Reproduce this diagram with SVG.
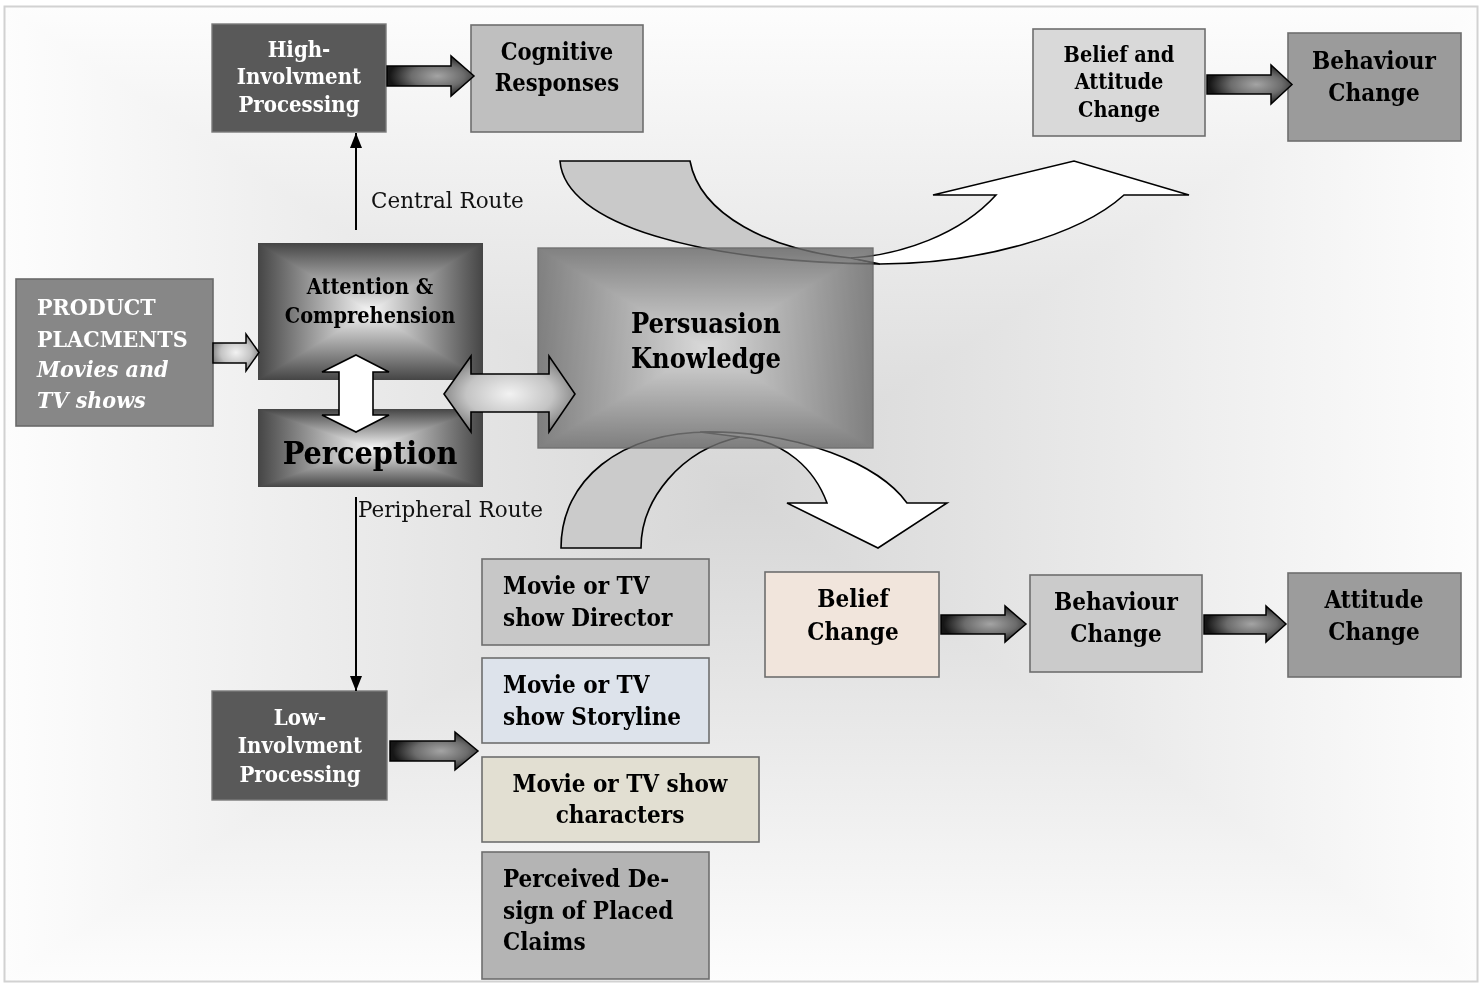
<svg xmlns="http://www.w3.org/2000/svg" width="1483" height="985" viewBox="0 0 1483 985">
  <defs>
    <style>
      .t { font-family: 'DejaVu Serif Condensed', 'DejaVu Serif', 'Liberation Serif', serif; font-stretch: condensed; font-weight: bold; fill: #000; }
      .w { fill: #fff; }
      .r { font-family: 'DejaVu Serif', 'Liberation Serif', serif; font-weight: normal; fill: #111; font-size: 21.5px; }
      .box { stroke: #6e6e6e; stroke-width: 1.6; }
      .dark { fill: #595959; stroke: #7a7a7a; stroke-width: 1.4; }
      .line { fill: none; stroke: #000; stroke-width: 2; }
    </style>
    <!-- page background: rectangular fade, light at the frame, grey in the middle -->
    <linearGradient id="bgH" gradientUnits="userSpaceOnUse" x1="4" y1="0" x2="1478" y2="0">
      <stop offset="0" stop-color="#fdfdfd"/>
      <stop offset="0.5" stop-color="#d6d6d6"/>
      <stop offset="1" stop-color="#fdfdfd"/>
    </linearGradient>
    <linearGradient id="bgV" gradientUnits="userSpaceOnUse" x1="0" y1="6" x2="0" y2="982">
      <stop offset="0" stop-color="#fdfdfd"/>
      <stop offset="0.5" stop-color="#d6d6d6"/>
      <stop offset="1" stop-color="#fdfdfd"/>
    </linearGradient>
    <!-- box shading: dark rim, light centre (combined with darken blend) -->
    <linearGradient id="acH" x1="0" y1="0" x2="1" y2="0">
      <stop offset="0" stop-color="#454545"/>
      <stop offset="0.5" stop-color="#f6f6f6"/>
      <stop offset="1" stop-color="#454545"/>
    </linearGradient>
    <linearGradient id="acV" x1="0" y1="0" x2="0" y2="1">
      <stop offset="0" stop-color="#454545"/>
      <stop offset="0.5" stop-color="#f6f6f6"/>
      <stop offset="1" stop-color="#454545"/>
    </linearGradient>
    <linearGradient id="pkH" x1="0" y1="0" x2="1" y2="0">
      <stop offset="0" stop-color="#6a6a6a"/>
      <stop offset="0.5" stop-color="#d8d8d8"/>
      <stop offset="1" stop-color="#6a6a6a"/>
    </linearGradient>
    <linearGradient id="pkV" x1="0" y1="0" x2="0" y2="1">
      <stop offset="0" stop-color="#6a6a6a"/>
      <stop offset="0.5" stop-color="#d8d8d8"/>
      <stop offset="1" stop-color="#6a6a6a"/>
    </linearGradient>
    <!-- block arrow fills -->
    <radialGradient id="dkArrow" cx="0.58" cy="0.5" r="0.55">
      <stop offset="0" stop-color="#a4a4a4"/>
      <stop offset="0.55" stop-color="#6c6c6c"/>
      <stop offset="1" stop-color="#161616"/>
    </radialGradient>
    <radialGradient id="ltArrow" cx="0.5" cy="0.5" r="0.55">
      <stop offset="0" stop-color="#f2f2f2"/>
      <stop offset="0.6" stop-color="#c4c4c4"/>
      <stop offset="1" stop-color="#7c7c7c"/>
    </radialGradient>
    <marker id="head" markerUnits="userSpaceOnUse" markerWidth="16" markerHeight="14" refX="15" refY="7" orient="auto" viewBox="0 0 16 14">
      <path d="M0,1 L15,7 L0,13 Z" fill="#000"/>
    </marker>
  </defs>

  <!-- background and frame -->
  <g id="background">
    <rect x="0" y="0" width="1483" height="985" fill="#fff"/>
    <rect x="4" y="6" width="1474" height="976" fill="url(#bgV)"/>
    <rect x="4" y="6" width="1474" height="976" fill="url(#bgH)" style="mix-blend-mode:lighten"/>
    <rect x="4.5" y="6.5" width="1473" height="975" fill="none" stroke="#d2d2d2" stroke-width="2"/>
  </g>

  <!-- curved flow arrows around the persuasion knowledge box -->
  <g id="connectors-curved">
    <path d="M560,161 H690 C700,215 770,250 851,258 L880,264 C700,262 565,225 560,161 Z" fill="#c9c9c9" stroke="#000" stroke-width="1.6"/>
    <path d="M880,264 C980,264 1080,235 1124,195 L1189,195 L1074,161 L933,195 L996,195 C960,235 900,255 851,258 Z" fill="#fff" stroke="#000" stroke-width="1.6"/>
    <path d="M561,548 C561,480 620,432 710,432 C725,433 735,435 740,437 C680,450 641,500 641,548 Z" fill="#cbcbcb" stroke="#000" stroke-width="1.6"/>
    <path d="M700,432 C800,430 880,465 907,503 L947,503 L878,548 L787,503 L827,503 C815,470 785,440 740,437 Z" fill="#fff" stroke="#000" stroke-width="1.6"/>
  </g>

  <g id="n-high">
    <rect class="dark" x="212" y="24" width="174" height="108"/>
    <text class="t w" font-size="22" text-anchor="middle"><tspan x="299" y="57">High-</tspan><tspan x="299" y="84">Involvment</tspan><tspan x="299" y="112">Processing</tspan></text>
  </g>
  <g id="n-cognitive">
    <rect class="box" x="471" y="25" width="172" height="107" fill="#bfbfbf"/>
    <text class="t" font-size="23.5" text-anchor="middle"><tspan x="557" y="60">Cognitive</tspan><tspan x="557" y="91">Responses</tspan></text>
  </g>
  <g id="n-belief-attitude">
    <rect class="box" x="1033" y="29" width="172" height="107" fill="#d9d9d9"/>
    <text class="t" font-size="21.5" text-anchor="middle"><tspan x="1119" y="62">Belief and</tspan><tspan x="1119" y="89">Attitude</tspan><tspan x="1119" y="117">Change</tspan></text>
  </g>
  <g id="n-behaviour-top">
    <rect class="box" x="1288" y="33" width="173" height="108" fill="#9b9b9b"/>
    <text class="t" font-size="24" text-anchor="middle"><tspan x="1374" y="69">Behaviour</tspan><tspan x="1374" y="101">Change</tspan></text>
  </g>
  <g id="n-product">
    <rect x="16" y="279" width="197" height="147" fill="#878787" stroke="#6a6a6a" stroke-width="1.6"/>
    <text class="t w" font-size="23"><tspan x="37" y="315">PRODUCT</tspan><tspan x="37" y="347">PLACMENTS</tspan><tspan x="37" y="377" font-style="italic">Movies and</tspan><tspan x="37" y="408" font-style="italic">TV shows</tspan></text>
  </g>
  <g id="n-attention">
    <rect x="258" y="243" width="225" height="137" fill="url(#acV)"/>
    <rect x="258" y="243" width="225" height="137" fill="url(#acH)" style="mix-blend-mode:darken"/>
    <text class="t" font-size="21.5" text-anchor="middle"><tspan x="370" y="294">Attention &amp;</tspan><tspan x="370" y="323">Comprehension</tspan></text>
  </g>
  <g id="n-perception">
    <rect x="258" y="409" width="225" height="78" fill="url(#acV)"/>
    <rect x="258" y="409" width="225" height="78" fill="url(#acH)" style="mix-blend-mode:darken"/>
    <text class="t" font-size="32" text-anchor="middle" x="370" y="464">Perception</text>
  </g>
  <g id="n-persuasion" opacity="0.82">
    <rect x="538" y="248" width="335" height="200" fill="url(#pkV)"/>
    <rect x="538" y="248" width="335" height="200" fill="url(#pkH)" style="mix-blend-mode:darken"/>
    <rect x="538" y="248" width="335" height="200" fill="none" stroke="#5a5a5a" stroke-width="1.4"/>
  </g>
  <g id="n-persuasion-label">
    <text class="t" font-size="27"><tspan x="631" y="333">Persuasion</tspan><tspan x="631" y="368">Knowledge</tspan></text>
  </g>
  <g id="n-low">
    <rect class="dark" x="212" y="691" width="175" height="109"/>
    <text class="t w" font-size="22" text-anchor="middle"><tspan x="300" y="725">Low-</tspan><tspan x="300" y="753">Involvment</tspan><tspan x="300" y="782">Processing</tspan></text>
  </g>
  <g id="n-director">
    <rect class="box" x="482" y="559" width="227" height="86" fill="#c7c7c7"/>
    <text class="t" font-size="24"><tspan x="503" y="594">Movie or TV</tspan><tspan x="503" y="626">show Director</tspan></text>
  </g>
  <g id="n-storyline">
    <rect class="box" x="482" y="658" width="227" height="85" fill="#dde3eb"/>
    <text class="t" font-size="24"><tspan x="503" y="693">Movie or TV</tspan><tspan x="503" y="725">show Storyline</tspan></text>
  </g>
  <g id="n-characters">
    <rect class="box" x="482" y="757" width="277" height="85" fill="#e2dfd2"/>
    <text class="t" font-size="24" text-anchor="middle"><tspan x="620" y="792">Movie or TV show</tspan><tspan x="620" y="823">characters</tspan></text>
  </g>
  <g id="n-perceived">
    <rect class="box" x="482" y="852" width="227" height="127" fill="#b4b4b4"/>
    <text class="t" font-size="24"><tspan x="503" y="887">Perceived De-</tspan><tspan x="503" y="919">sign of Placed</tspan><tspan x="503" y="950">Claims</tspan></text>
  </g>
  <g id="n-belief">
    <rect class="box" x="765" y="572" width="174" height="105" fill="#f1e5dc"/>
    <text class="t" font-size="24" text-anchor="middle"><tspan x="853" y="607">Belief</tspan><tspan x="853" y="640">Change</tspan></text>
  </g>
  <g id="n-behaviour">
    <rect class="box" x="1030" y="575" width="172" height="97" fill="#cbcbcb"/>
    <text class="t" font-size="24" text-anchor="middle"><tspan x="1116" y="610">Behaviour</tspan><tspan x="1116" y="642">Change</tspan></text>
  </g>
  <g id="n-attitude">
    <rect class="box" x="1288" y="573" width="173" height="104" fill="#9c9c9c"/>
    <text class="t" font-size="24" text-anchor="middle"><tspan x="1374" y="608">Attitude</tspan><tspan x="1374" y="640">Change</tspan></text>
  </g>

  <!-- straight connectors and block arrows -->
  <g id="connectors">
    <line class="line" x1="356" y1="230" x2="356" y2="133" marker-end="url(#head)"/>
    <text class="r" x="371" y="208">Central Route</text>
    <line class="line" x1="356" y1="497" x2="356" y2="691" marker-end="url(#head)"/>
    <text class="r" x="358" y="517">Peripheral Route</text>

    <path d="M213,343 H246 V334 L259,352.5 L246,371 V363 H213 Z" fill="url(#ltArrow)" stroke="#000" stroke-width="1.5"/>
    <path d="M356,355 L389,372 H373 V415 H389 L356,432 L322,415 H339 V372 H322 Z" fill="#fff" stroke="#000" stroke-width="1.6"/>
    <path d="M444,394 L471,356 V374 H549 V356 L575,394 L549,432 V412 H471 V432 Z" fill="url(#ltArrow)" stroke="#000" stroke-width="1.6"/>

    <path d="M387,66 H451 V56 L474,76 L451,96 V86 H387 Z" fill="url(#dkArrow)" stroke="#000" stroke-width="1.5"/>
    <path d="M1207,75 H1271 V65 L1292,84.5 L1271,104 V94 H1207 Z" fill="url(#dkArrow)" stroke="#000" stroke-width="1.5"/>
    <path d="M390,741 H455 V732 L478,751 L455,770 V761 H390 Z" fill="url(#dkArrow)" stroke="#000" stroke-width="1.5"/>
    <path d="M941,615 H1005 V606 L1026,624 L1005,642 V634 H941 Z" fill="url(#dkArrow)" stroke="#000" stroke-width="1.5"/>
    <path d="M1204,615 H1266 V606 L1286,624 L1266,642 V634 H1204 Z" fill="url(#dkArrow)" stroke="#000" stroke-width="1.5"/>
  </g>
</svg>
